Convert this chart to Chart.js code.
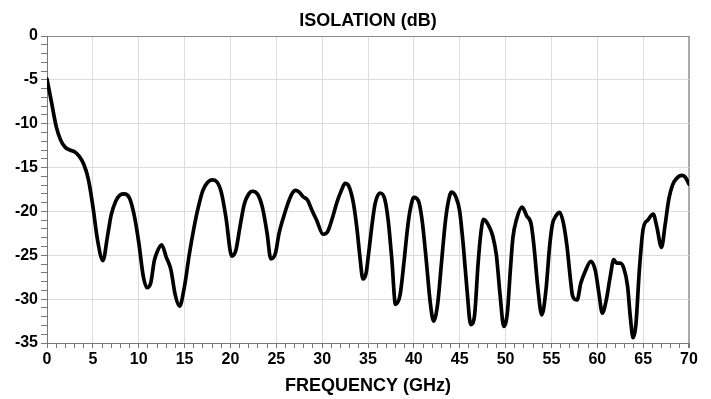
<!DOCTYPE html>
<html>
<head>
<meta charset="utf-8">
<script src="https://cdn.jsdelivr.net/npm/chart.js@4"></script>
<style>
    html, body { margin: 0; padding: 0; background: #fff; }
    #wrap { width: 711px; height: 399px; }
</style>
</head>
<body>
<div id="wrap"><canvas id="isolationChart"></canvas></div>
<script>
// frequency in GHz, isolation in dB
const freqGHz = [
    0, 0.5, 1, 1.5, 2, 2.5, 3, 3.5, 4, 4.5, 5, 5.5, 6.1, 6.6, 7, 7.5, 8, 8.4, 9, 9.5,
    10, 10.5, 10.9, 11.3, 11.7, 12.1, 12.5, 13, 13.5, 14, 14.45, 15, 15.5, 16, 16.5, 17, 17.5, 18, 18.5, 19,
    19.5, 20.15, 20.6, 21, 21.5, 22, 22.4, 23, 23.5, 24, 24.4, 24.9, 25.3, 25.8, 26.3, 26.7, 27.1, 27.5, 27.9, 28.4,
    28.9, 29.4, 30.1, 30.6, 31.1, 31.6, 32.1, 32.5, 32.9, 33.4, 33.8, 34.1, 34.45, 34.8, 35.1, 35.5, 35.8, 36.3, 36.8, 37.2,
    37.6, 38.0, 38.5, 38.9, 39.3, 39.6, 40.0, 40.5, 40.9, 41.3, 41.8, 42.15, 42.6, 43.0, 43.4, 43.7, 44.1, 44.6, 45.0, 45.4,
    45.8, 46.2, 46.6, 47.0, 47.3, 47.6, 48.1, 48.6, 49.0, 49.4, 49.8, 50.2, 50.5, 50.8, 51.2, 51.8, 52.3, 52.8, 53.1, 53.5,
    53.95, 54.4, 54.8, 55.1, 55.5, 55.9, 56.3, 56.7, 57.1, 57.3, 57.8, 58.2, 58.7, 59.3, 59.8, 60.2, 60.55, 61.0, 61.4, 61.8,
    62.1, 62.5, 62.9, 63.3, 63.6, 63.9, 64.2, 64.6, 65.0, 65.5, 66.1, 66.5, 67.0, 67.4, 67.8, 68.2, 68.6, 69.2, 69.6, 70.0
];
const isolationDb = [
    -4.9, -7.6, -10.3, -11.9, -12.7, -13.0, -13.2, -13.7, -14.6, -16.3, -19.4, -23.2, -25.6, -22.8, -20.4, -18.8, -18.1, -18.0, -18.5, -20.4,
    -23.5, -27.4, -28.7, -28.2, -25.6, -24.4, -23.8, -25.2, -26.6, -29.6, -30.8, -28.5, -25.0, -22.0, -19.5, -17.6, -16.7, -16.4, -16.6, -17.8,
    -20.6, -25.1, -24.4, -22.0, -19.2, -18.0, -17.7, -18.1, -19.6, -22.5, -25.4, -24.8, -22.5, -20.6, -19.0, -18.0, -17.6, -17.8, -18.3, -18.7,
    -19.9, -21.0, -22.6, -22.3, -20.8, -19.0, -17.6, -16.8, -17.1, -19.0, -22.0, -25.0, -27.7, -27.0, -24.5, -21.0, -19.0, -17.9, -18.5, -21.0,
    -25.5, -30.6, -29.5, -26.0, -22.0, -19.8, -18.4, -18.8, -21.0, -25.0, -30.5, -32.5, -30.5, -26.0, -21.5, -19.2, -17.8, -18.4, -20.0, -24.0,
    -29.0, -32.9, -32.0, -26.0, -22.5, -20.9, -21.5, -22.8, -25.0, -29.5, -33.1, -31.5, -27.0, -23.0, -20.9, -19.5, -20.5, -21.5, -24.0, -28.5,
    -31.8, -29.0, -24.0, -21.5, -20.5, -20.1, -21.3, -24.0, -28.0, -29.6, -30.1, -28.2, -26.8, -25.7, -26.8, -29.5, -31.6, -30.0, -27.5, -25.5,
    -25.9, -25.9, -26.5, -28.5, -32.0, -34.4, -33.0, -26.5, -22.0, -21.0, -20.3, -21.8, -24.1, -21.5, -18.6, -17.0, -16.3, -15.9, -16.1, -16.9
];

const FONT = '"Liberation Sans", Arial, sans-serif';
const CHART_TITLE = 'ISOLATION (dB)';
const points = freqGHz.map((f, i) => ({ x: f, y: isolationDb[i] }));

// title centred over the plot area rather than the whole canvas
const plotTitle = {
    id: 'plotTitle',
    afterDraw(chart) {
        const { ctx, chartArea } = chart;
        ctx.save();
        ctx.font = 'bold 18px ' + FONT;
        ctx.fillStyle = '#000';
        ctx.textAlign = 'center';
        ctx.textBaseline = 'middle';
        ctx.fillText(CHART_TITLE, (chartArea.left + chartArea.right) / 2, 21.5);
        ctx.restore();
    }
};

new Chart(document.getElementById('isolationChart'), {
    type: 'line',
    data: {
        datasets: [{
            data: points,
            borderColor: '#000',
            borderWidth: 3.7,
            borderCapStyle: 'round',
            borderJoinStyle: 'round',
            pointRadius: 0,
            cubicInterpolationMode: 'monotone',
            fill: false
        }]
    },
    options: {
        responsive: true,
        maintainAspectRatio: false,
        animation: false,
        layout: { padding: { left: 0, right: 22, top: 36, bottom: 0 } },
        plugins: {
            legend: { display: false },
            tooltip: { enabled: false },
            title: { display: false }
        },
        scales: {
            x: {
                type: 'linear',
                min: 0,
                max: 70,
                afterFit: scale => { scale.height = 56; },
                border: { color: '#777', width: 1 },
                grid: {
                    color: ctx => {
                        const v = ctx.tick && ctx.tick.value;
                        if (v === 70) return '#aaa';
                        return v % 5 === 0 ? '#dcdcdc' : 'rgba(0,0,0,0)';
                    },
                    lineWidth: ctx => (ctx.tick && ctx.tick.value === 70 ? 2 : 1),
                    tickColor: '#777',
                    tickLength: 5,
                    drawTicks: true
                },
                ticks: {
                    stepSize: 1,
                    autoSkip: false,
                    maxRotation: 0,
                    maxTicksLimit: 100,
                    padding: 2,
                    color: '#000',
                    font: { family: FONT, size: 16, weight: 'bold' },
                    callback: v => (v % 5 === 0 ? String(v) : '')
                },
                title: {
                    display: true,
                    text: 'FREQUENCY (GHz)',
                    color: '#000',
                    font: { family: FONT, size: 18, weight: 'bold' },
                    padding: { top: 0, bottom: 2 }
                }
            },
            y: {
                min: -35,
                max: 0,
                afterFit: scale => { scale.width = 47; },
                border: { color: '#777', width: 1 },
                grid: {
                    color: ctx => {
                        const v = ctx.tick && ctx.tick.value;
                        if (v === 0) return '#888';
                        return v % 5 === 0 ? '#dcdcdc' : 'rgba(0,0,0,0)';
                    },
                    tickColor: '#777',
                    tickLength: 6,
                    drawTicks: true
                },
                ticks: {
                    stepSize: 1,
                    autoSkip: false,
                    maxTicksLimit: 100,
                    padding: 3,
                    color: '#000',
                    font: { family: FONT, size: 16, weight: 'bold' },
                    callback: v => (v % 5 === 0 ? String(v) : '')
                }
            }
        }
    },
    plugins: [plotTitle]
});
</script>
</body>
</html>
